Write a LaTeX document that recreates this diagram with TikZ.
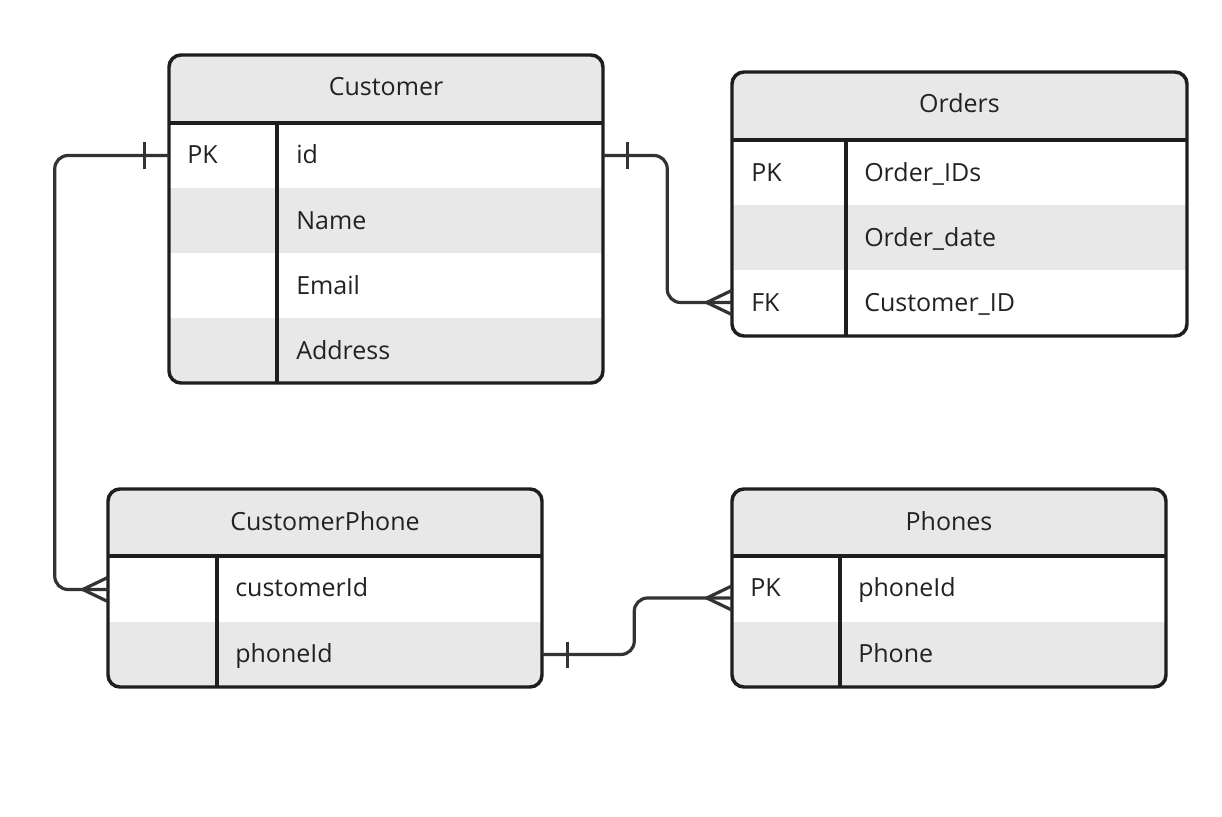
\documentclass[tikz,border=0pt]{standalone}
\usepackage{fontspec}
\setmainfont{Open Sans}
\usetikzlibrary{calc}
\definecolor{hdr}{HTML}{E8E8E8}
\definecolor{bord}{HTML}{1E1E1E}
\definecolor{lnk}{HTML}{333333}
\definecolor{txt}{HTML}{222222}
\begin{document}
\begin{tikzpicture}[x=0.75pt,y=-0.75pt,
  tbl/.style={draw=bord,line width=2.6pt,rounded corners=9pt},
  sep/.style={draw=bord,line width=2.6pt},
  conn/.style={draw=lnk,line width=2.4pt,rounded corners=10pt},
  tipline/.style={draw=lnk,line width=2.4pt},
  hdrtxt/.style={anchor=base,text=txt,inner sep=0pt,font=\fontsize{18.75}{22}\selectfont},
  celltxt/.style={anchor=base west,text=txt,inner sep=0pt,font=\fontsize{18.75}{22}\selectfont},
  rowbox/.style={inner sep=0pt,minimum height=65*0.75pt}
]
\useasboundingbox (0,0) rectangle (1222,817);
\fill[white] (0,0) rectangle (1222,817);

% ---------- Customer ----------
\begin{scope}
\clip[rounded corners=9pt] (169,55) rectangle (603,383);
\fill[hdr] (169,55) rectangle (603,123);
\fill[hdr] (169,188) rectangle (603,253);
\fill[hdr] (169,318) rectangle (603,383);
\end{scope}
\draw[tbl] (169,55) rectangle (603,383);
\draw[sep] (169,123) -- (603,123);
\draw[sep] (277,123) -- (277,383);
\node[hdrtxt] (customer) at (386,96) {Customer};
\node[rowbox,minimum width=434*0.75pt] (cid) at (386,155.5) {};
\node[rowbox,minimum width=434*0.75pt] (cname) at (386,220.5) {};
\node[rowbox,minimum width=434*0.75pt] (cemail) at (386,285.5) {};
\node[rowbox,minimum width=434*0.75pt] (caddr) at (386,350.5) {};
\node[celltxt] (cpk) at (187,164) {PK};
\node[celltxt] (cidt) at (296,164) {id};
\node[celltxt] (cnamet) at (296,229) {Name};
\node[celltxt] (cemailt) at (296,294) {Email};
\node[celltxt] (caddrt) at (296,359) {Address};

% ---------- Orders ----------
\begin{scope}
\clip[rounded corners=9pt] (732,72) rectangle (1187,336);
\fill[hdr] (732,72) rectangle (1187,140);
\fill[hdr] (732,205) rectangle (1187,270);
\end{scope}
\draw[tbl] (732,72) rectangle (1187,336);
\draw[sep] (732,140) -- (1187,140);
\draw[sep] (846,140) -- (846,336);
\node[hdrtxt] (orders) at (959.5,113) {Orders};
\node[rowbox,minimum width=455*0.75pt] (oid) at (959.5,172.5) {};
\node[rowbox,minimum width=455*0.75pt] (odate) at (959.5,237.5) {};
\node[rowbox,minimum width=455*0.75pt] (ofk) at (959.5,302.5) {};
\node[celltxt] (opk) at (751,181) {PK};
\node[celltxt] (oidt) at (864,181) {Order\_IDs};
\node[celltxt] (odatet) at (864,246) {Order\_date};
\node[celltxt] (ofkk) at (751,311) {FK};
\node[celltxt] (ofkt) at (864,311) {Customer\_ID};

% ---------- CustomerPhone ----------
\begin{scope}
\clip[rounded corners=9pt] (108,489) rectangle (542,687);
\fill[hdr] (108,489) rectangle (542,556);
\fill[hdr] (108,622) rectangle (542,687);
\end{scope}
\draw[tbl] (108,489) rectangle (542,687);
\draw[sep] (108,556) -- (542,556);
\draw[sep] (217,556) -- (217,687);
\node[hdrtxt] (custphone) at (325,530) {CustomerPhone};
\node[rowbox,minimum width=434*0.75pt] (cpcust) at (325,589.5) {};
\node[rowbox,minimum width=434*0.75pt] (cpphone) at (325,654.5) {};
\node[celltxt] (cpcustt) at (235,596) {customerId};
\node[celltxt] (cpphonet) at (235,662) {phoneId};

% ---------- Phones ----------
\begin{scope}
\clip[rounded corners=9pt] (732,489) rectangle (1166,687);
\fill[hdr] (732,489) rectangle (1166,556);
\fill[hdr] (732,622) rectangle (1166,687);
\end{scope}
\draw[tbl] (732,489) rectangle (1166,687);
\draw[sep] (732,556) -- (1166,556);
\draw[sep] (840,556) -- (840,687);
\node[hdrtxt] (phones) at (949,530) {Phones};
\node[rowbox,minimum width=434*0.75pt] (phid) at (949,589.5) {};
\node[rowbox,minimum width=434*0.75pt] (phnum) at (949,654.5) {};
\node[celltxt] (phpk) at (750,596) {PK};
\node[celltxt] (phidt) at (858,596) {phoneId};
\node[celltxt] (phnumt) at (858,662) {Phone};

% ---------- connectors ----------
% Customer.id -> CustomerPhone.customerId
\draw[conn] (cid.west) -- ++(-114,0) |- (cpcust.west);
\draw[tipline] ($(cid.west)+(-24,-13)$) -- ($(cid.west)+(-24,13)$);
\draw[tipline] ($(cpcust.west)+(-25,0)$) -- ($(cpcust.west)+(0,-12)$);
\draw[tipline] ($(cpcust.west)+(-25,0)$) -- ($(cpcust.west)+(0,12)$);

% Customer.id -> Orders.Customer_ID
\draw[conn] (cid.east) -- ++(64,0) |- (ofk.west);
\draw[tipline] ($(cid.east)+(24,-13)$) -- ($(cid.east)+(24,13)$);
\draw[tipline] ($(ofk.west)+(-25,0)$) -- ($(ofk.west)+(0,-12)$);
\draw[tipline] ($(ofk.west)+(-25,0)$) -- ($(ofk.west)+(0,12)$);

% CustomerPhone.phoneId -> Phones.phoneId
\coordinate (phend) at ($(phid.west)+(0,8.5)$);
\draw[conn] (cpphone.east) -- ++(92,0) |- (phend);
\draw[tipline] ($(cpphone.east)+(25,-13)$) -- ($(cpphone.east)+(25,13)$);
\draw[tipline] ($(phend)+(-25,0)$) -- ($(phend)+(0,-12)$);
\draw[tipline] ($(phend)+(-25,0)$) -- ($(phend)+(0,12)$);
\end{tikzpicture}
\end{document}
